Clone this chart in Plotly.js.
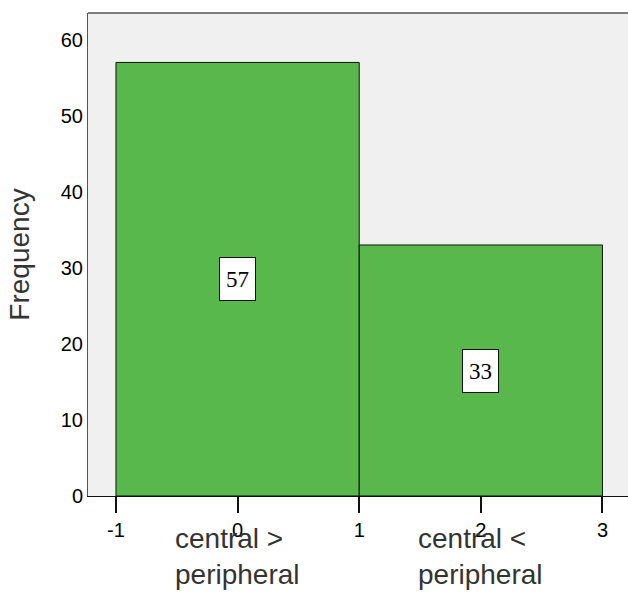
<!DOCTYPE html>
<html>
<head>
<meta charset="utf-8">
<script src="https://cdn.plot.ly/plotly-3.0.1.min.js"></script>
<style>html,body{margin:0;padding:0;background:#fff}#chart{width:628px;height:593px}</style>
</head>
<body>
<div id="chart"></div>
<script>
const binCenters = [0, 2];
const binWidths = [2, 2];
const counts = [57, 33];
const categoryLabels = ["central ><br>peripheral", "central <<br>peripheral"];
const xTickVals = [-1, 0, 1, 2, 3];
const yTickVals = [0, 10, 20, 30, 40, 50, 60];

const trace = {
  type: 'bar',
  x: binCenters,
  y: counts,
  width: binWidths,
  marker: {color: '#58b84c', line: {color: '#111', width: 1}},
  hoverinfo: 'none'
};

const annotations = [];
binCenters.forEach((c, i) => {
  annotations.push({
    x: c, y: counts[i] / 2, xref: 'x', yref: 'y',
    text: String(counts[i]), showarrow: false,
    font: {family: 'Liberation Serif, Times New Roman, serif', size: 23, color: '#000'},
    bgcolor: '#fff', bordercolor: '#111', borderwidth: 1,
    width: 33, height: 40, valign: 'middle'
  });
  annotations.push({
    x: c, y: 0, xref: 'x', yref: 'y',
    yshift: -25, xshift: 0,
    text: categoryLabels[i], showarrow: false,
    xanchor: 'center', yanchor: 'top', align: 'left',
    font: {family: 'Liberation Sans, Arial, sans-serif', size: 28, color: '#333'}
  });
});

const layout = {
  width: 628, height: 593,
  margin: {l: 88, r: 0, t: 13, b: 97},
  paper_bgcolor: '#fff',
  plot_bgcolor: '#f0f0f0',
  showlegend: false,
  bargap: 0,
  xaxis: {
    range: [-1.23, 3.21],
    tickvals: xTickVals,
    ticktext: xTickVals.map(String),
    ticks: 'outside', ticklen: 16, tickwidth: 2, tickcolor: '#111',
    showline: true, linecolor: '#111', linewidth: 1,
    showgrid: false, zeroline: false,
    tickfont: {family: 'Liberation Sans, Arial, sans-serif', size: 20, color: '#000'}
  },
  yaxis: {
    range: [0, 63.5],
    tickvals: yTickVals,
    ticks: '', ticklen: 0,
    showline: true, linecolor: '#555', linewidth: 1,
    showgrid: false, zeroline: false,
    tickfont: {family: 'Liberation Sans, Arial, sans-serif', size: 20, color: '#000'},
    title: {text: 'Frequency', standoff: 22,
      font: {family: 'Liberation Sans, Arial, sans-serif', size: 28, color: '#333'}}
  },
  shapes: [{
    type: 'line', xref: 'paper', yref: 'paper', x0: 0, x1: 1, y0: 1, y1: 1,
    line: {color: '#555', width: 1.5}
  }],
  annotations: annotations
};

Plotly.newPlot('chart', [trace], layout, {displayModeBar: false, staticPlot: true});
</script>
</body>
</html>
